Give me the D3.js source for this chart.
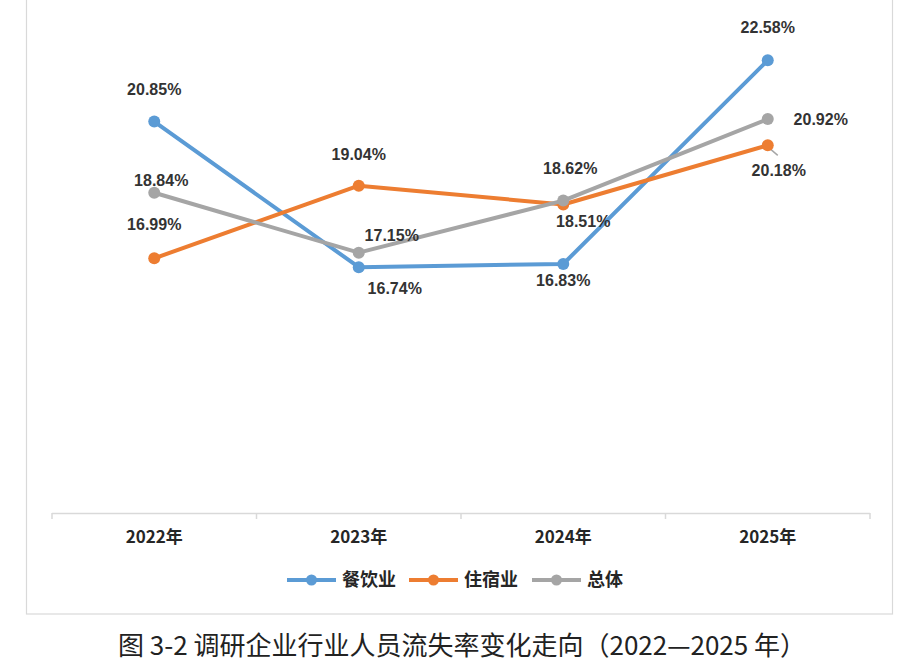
<!DOCTYPE html>
<html>
<head>
<meta charset="utf-8">
<script src="https://cdn.jsdelivr.net/npm/d3@7"></script>
<style>
  html, body { margin: 0; padding: 0; background: #fff; overflow: hidden; }
</style>
</head>
<body>
<div id="wrapper"></div>
<script>
// chart data
const years = ["2022年", "2023年", "2024年", "2025年"]
const seriesNames = ["餐饮业", "住宿业", "总体"]
const cateringRates = [20.85, 16.74, 16.83, 22.58]
const lodgingRates = [16.99, 19.04, 18.51, 20.18]
const overallRates = [18.84, 17.15, 18.62, 20.92]
const captionText = "图 3-2 调研企业行业人员流失率变化走向（2022—2025 年）"

// label placement per point (label centre relative to the point)
const labelOffsets = [
    [[0, -27], [36, 27], [0, 22], [0, -27]],
    [[0, -28], [0, -26], [20, 23], [11, 31]],
    [[7, -7], [33, -12], [7, -27], [53, 6]]
]
const colors = ["#5b9bd5", "#ed7d31", "#a5a5a5"]

function drawChart() {
    const dims = {
        width: 913,
        height: 664,
        box: { left: 26, right: 892, top: -10, bottom: 614 },
        plot: { left: 52, right: 870, top: 10, bottom: 513 }
    }

    const svg = d3.select("#wrapper")
        .append("svg")
            .attr("width", dims.width)
            .attr("height", dims.height)

    // outer chart border
    svg.append("rect")
        .attr("x", dims.box.left + 0.5)
        .attr("y", dims.box.top)
        .attr("width", dims.box.right - dims.box.left)
        .attr("height", dims.box.bottom - dims.box.top)
        .attr("fill", "#fff")
        .attr("stroke", "#d9d9d9")
        .attr("stroke-width", 1.2)

    const xScale = d3.scaleBand()
        .domain(years)
        .range([dims.plot.left, dims.plot.right])

    const yScale = d3.scaleLinear()
        .domain([9.8, 24])
        .range([dims.plot.bottom, dims.plot.top])

    // category axis with ticks between categories
    const axisG = svg.append("g")
    axisG.append("line")
        .attr("x1", dims.plot.left)
        .attr("x2", dims.plot.right)
        .attr("y1", dims.plot.bottom + 0.5)
        .attr("y2", dims.plot.bottom + 0.5)
        .attr("stroke", "#d9d9d9")
        .attr("stroke-width", 1.5)
    const boundaries = years.map(y => xScale(y)).concat([dims.plot.right])
    axisG.selectAll(".tick-mark")
        .data(boundaries)
        .join("line")
            .attr("x1", d => d)
            .attr("x2", d => d)
            .attr("y1", dims.plot.bottom)
            .attr("y2", dims.plot.bottom + 6)
            .attr("stroke", "#d9d9d9")
            .attr("stroke-width", 1.5)
    axisG.selectAll(".year-label")
        .data(years)
        .join("text")
            .attr("x", d => xScale(d) + xScale.bandwidth() / 2)
            .attr("y", dims.plot.bottom + 30)
            .attr("text-anchor", "middle")
            .attr("font-family", "'Noto Sans CJK SC', sans-serif")
            .attr("font-weight", "bold")
            .attr("font-size", 17)
            .attr("fill", "#262626")
            .text(d => d)

    const allSeries = [cateringRates, lodgingRates, overallRates].map((values, i) => ({
        name: seriesNames[i],
        color: colors[i],
        points: values.map((v, j) => ({ year: years[j], value: v, offset: labelOffsets[i][j] }))
    }))

    const xPos = d => xScale(d.year) + xScale.bandwidth() / 2
    const yPos = d => yScale(d.value)

    const line = d3.line().x(xPos).y(yPos)

    // small leader line for the 2025 lodging label
    const p = allSeries[1].points[3]
    svg.append("line")
        .attr("x1", xPos(p) + 3).attr("y1", yPos(p) + 4)
        .attr("x2", xPos(p) + 10).attr("y2", yPos(p) + 10)
        .attr("stroke", "#a6a6a6")
        .attr("stroke-width", 1.5)

    const seriesG = svg.selectAll(".series")
        .data(allSeries)
        .join("g")

    seriesG.append("path")
        .attr("d", d => line(d.points))
        .attr("fill", "none")
        .attr("stroke", d => d.color)
        .attr("stroke-width", 4)
        .attr("stroke-linejoin", "round")

    seriesG.selectAll("circle")
        .data(d => d.points.map(pt => ({ ...pt, color: d.color })))
        .join("circle")
            .attr("cx", xPos)
            .attr("cy", yPos)
            .attr("r", 6)
            .attr("fill", d => d.color)

    seriesG.selectAll(".value-label")
        .data(d => d.points)
        .join("text")
            .attr("x", d => xPos(d) + d.offset[0])
            .attr("y", d => yPos(d) + d.offset[1])
            .attr("text-anchor", "middle")
            .attr("font-family", "'Liberation Sans', Arial, sans-serif")
            .attr("font-weight", "bold")
            .attr("font-size", 16)
            .attr("fill", "#333")
            .text(d => d.value.toFixed(2) + "%")

    // legend
    const legendX = [287, 409, 532]
    const legendY = 580
    const legend = svg.selectAll(".legend")
        .data(allSeries)
        .join("g")
            .attr("transform", (d, i) => `translate(${legendX[i]},${legendY})`)
    legend.append("line")
        .attr("x1", 0).attr("x2", 49)
        .attr("stroke", d => d.color)
        .attr("stroke-width", 4)
    legend.append("circle")
        .attr("cx", 24.5)
        .attr("r", 5.5)
        .attr("fill", d => d.color)
    legend.append("text")
        .attr("x", 55)
        .attr("y", 6)
        .attr("font-family", "'Noto Sans CJK SC', sans-serif")
        .attr("font-weight", "bold")
        .attr("font-size", 18)
        .attr("fill", "#262626")
        .text(d => d.name)

    // figure caption below the chart box
    svg.append("text")
        .attr("x", 462)
        .attr("y", 655)
        .attr("text-anchor", "middle")
        .attr("font-family", "'Noto Sans CJK SC', sans-serif")
        .attr("font-size", 26)
        .attr("fill", "#222")
        .text(captionText)
}

drawChart()
</script>
</body>
</html>
